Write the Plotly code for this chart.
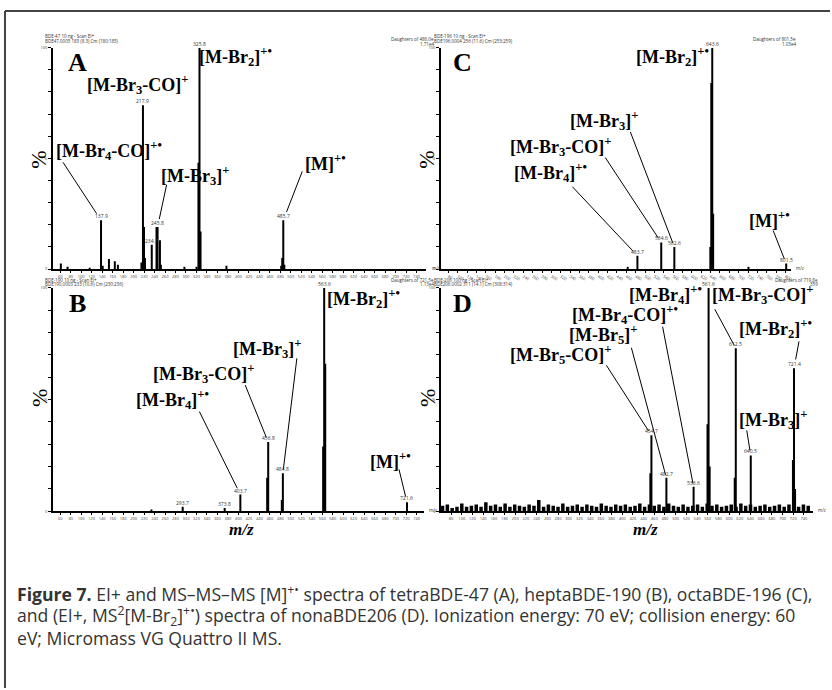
import math
import plotly.graph_objects as go

W, H = 832, 690

# ---------------- data (m/z, relative intensity %) ----------------
# A: tetraBDE-47
a_mz  = [61.2, 74.0, 116.3, 137.9, 141.1, 153.0, 164.2, 170.1, 215.0, 217.9, 219.9, 221.8,
         234.7, 243.8, 245.8, 250.3, 252.1, 297.0, 320.1, 323.8, 325.8, 327.8, 377.2,
         481.7, 483.7, 485.7, 487.7]
a_int = [2.5, 1.0, 0.6, 22, 1.5, 4.5, 3.5, 2.0, 3, 74, 19, 5,
         11, 19, 19, 13, 2, 1, 1, 48, 100, 17, 1.5,
         1.5, 5, 22, 2]
a_lab = [137.9, 217.9, 234.7, 245.8, 325.8, 485.7]

# B: heptaBDE-190
b_mz  = [234.0, 293.7, 373.8, 403.7, 454.8, 456.8, 482.8, 484.8, 561.6, 563.6, 565.6, 721.6]
b_int = [0.8, 2.0, 1.5, 7.5, 15, 31, 5, 17, 29, 100, 66, 4]
b_lab = [293.7, 373.8, 403.7, 456.8, 484.8, 563.6, 721.6]

# C: octaBDE-196
c_mz  = [463.0, 483.7, 534.6, 562.6, 639.5, 641.5, 643.6, 645.5, 721.0, 801.5]
c_int = [1.0, 6, 12, 10, 10, 84, 100, 25, 1.0, 2.5]
c_lab = [483.7, 534.6, 562.6, 643.6, 801.5]

# D: nonaBDE-206 (MS2 of [M-Br2]+.)
d_mz  = [452.7, 454.7, 482.7, 533.6, 559.6, 561.6, 563.6, 610.5, 612.5, 640.5, 719.4, 721.4, 723.4]
d_int = [17, 34, 15, 11, 39, 100, 20, 15, 73, 25, 23, 64, 10]
d_lab = [454.7, 482.7, 533.6, 561.6, 612.5, 640.5, 721.4]
d_noise_mz = [64, 73, 82, 91, 100, 109, 118, 127, 136, 145, 154, 163, 172, 181, 190, 199, 208,
              217, 226, 235, 244, 253, 262, 271, 280, 289, 298, 307, 316, 325, 334, 343, 352,
              361, 370, 379, 388, 397, 406, 415, 424, 433, 442, 451, 460, 469, 478, 487, 496,
              505, 514, 523, 532, 541, 550, 559, 568, 577, 586, 595, 604, 613, 622, 631, 640,
              649, 658, 667, 676, 685, 694, 703, 712, 721, 730, 739, 748]
d_noise_int = [2.5, 3, 1.5, 2, 3.5, 2, 2.5, 3, 2, 4, 2.5, 3, 2, 3.5, 2, 3, 2.5,
               2, 3, 2.5, 5, 2, 3, 2.5, 2, 3.5, 2, 2.5, 3, 2, 3, 2.5, 2,
               3.5, 2.5, 2, 3, 2.5, 3, 2, 2.5, 3.5, 2, 3, 2.5, 3, 2, 3.5, 2.5,
               2, 3, 2, 2.5, 3, 2, 3.5, 2.5, 3, 2, 2.5, 3, 2, 3.5, 2.5, 3,
               2, 2.5, 3, 2, 2.5, 3, 2, 3, 2.5, 2, 3, 2.5]

# ---------------- layout of panels (pixel boxes) ----------------
panels = {
    "A": dict(ax="", x=(53, 427), y=(45, 268), rng=(46, 758), mz=a_mz, it=a_int, lab=a_lab,
              noise=None),
    "C": dict(ax="2", x=(442, 793), y=(45, 268), rng=(64, 812), mz=c_mz, it=c_int, lab=c_lab,
              noise=None),
    "B": dict(ax="3", x=(53, 425), y=(287, 512), rng=(46, 754), mz=b_mz, it=b_int, lab=b_lab,
              noise=None),
    "D": dict(ax="4", x=(442, 815), y=(287, 512), rng=(61, 757), mz=d_mz, it=d_int, lab=d_lab,
              noise=(d_noise_mz, d_noise_int)),
}

fig = go.Figure()
serif = "Liberation Serif, Times New Roman, serif"

def sticks(mz, it):
    xs, ys = [], []
    for m, v in zip(mz, it):
        xs += [m, m, None]
        ys += [0, v, None]
    return xs, ys

for name, p in panels.items():
    xa, ya = "x" + p["ax"], "y" + p["ax"]
    if p["noise"]:
        xs, ys = sticks(*p["noise"])
        fig.add_trace(go.Scatter(x=xs, y=ys, mode="lines", xaxis=xa, yaxis=ya,
                                 line=dict(color="black", width=3.5), hoverinfo="skip"))
    xs, ys = sticks(p["mz"], p["it"])
    fig.add_trace(go.Scatter(x=xs, y=ys, mode="lines", xaxis=xa, yaxis=ya,
                             line=dict(color="black", width=2), hoverinfo="skip"))
    lay_x = "xaxis" + p["ax"]
    lay_y = "yaxis" + p["ax"]
    fig.layout[lay_x] = dict(domain=[p["x"][0] / W, p["x"][1] / W], range=list(p["rng"]),
                             anchor=ya, showgrid=False, zeroline=False, showline=True,
                             linecolor="black", linewidth=1.5, ticks="outside", ticklen=2,
                             tickwidth=1, tickcolor="black", dtick=20,
                             tickfont=dict(size=4, color="#444"))
    fig.layout[lay_y] = dict(domain=[1 - p["y"][1] / H, 1 - p["y"][0] / H], range=[0, 100],
                             anchor=xa, showgrid=False, zeroline=False, showline=True,
                             linecolor="black", linewidth=1.5, ticks="outside", ticklen=3,
                             tickwidth=1, tickcolor="black",
                             tickvals=[0, 50, 100], ticktext=["0", "%", "100"],
                             minor=dict(dtick=10, ticklen=3, tickcolor="black", ticks="outside"),
                             tickfont=dict(size=4, color="#444"))
    # tiny m/z value labels over peaks
    lookup = dict(zip(p["mz"], p["it"]))
    for m in p["lab"]:
        fig.add_annotation(x=m, y=lookup[m], xref=xa, yref=ya, text=f"{m:.1f}",
                           showarrow=False, yshift=4, font=dict(size=5, color="#333"))

# ---------------- annotation labels ----------------
labels = [
    ("[M-Br<sub>2</sub>", "+•", 236, 54), ("[M-Br<sub>3</sub>-CO", "+", 138, 82),
    ("[M-Br<sub>4</sub>-CO", "+•", 109, 149), ("[M-Br<sub>3</sub>", "+", 195, 174),
    ("[M", "+•", 326, 161),
    ("[M-Br<sub>2</sub>", "+•", 674, 54), ("[M-Br<sub>3</sub>", "+", 605, 118),
    ("[M-Br<sub>3</sub>-CO", "+", 562, 145), ("[M-Br<sub>4</sub>", "+•", 552, 171),
    ("[M", "+•", 771, 218),
    ("[M-Br<sub>2</sub>", "+•", 364, 298), ("[M-Br<sub>3</sub>", "+", 268, 348),
    ("[M-Br<sub>3</sub>-CO", "+", 204, 373), ("[M-Br<sub>4</sub>", "+•", 173, 399),
    ("[M", "+•", 391, 461),
    ("[M-Br<sub>4</sub>", "+•", 667, 294), ("[M-Br<sub>3</sub>-CO", "+", 764, 294),
    ("[M-Br<sub>4</sub>-CO", "+•", 627, 314), ("[M-Br<sub>5</sub>", "+", 604, 334),
    ("[M-Br<sub>5</sub>-CO", "+", 562, 354), ("[M-Br<sub>2</sub>", "+•", 777, 328),
    ("[M-Br<sub>3</sub>", "+", 775, 420),
]
for core, ch, cx, cy in labels:
    fig.add_annotation(x=cx / W, y=1 - cy / H, xref="paper", yref="paper",
                       text=f"<b>{core}]<sup>{ch}</sup></b>", showarrow=False,
                       xanchor="center", yanchor="middle",
                       font=dict(family=serif, size=18, color="black"))

# leader lines: (axis suffix, peak m/z, tail dx, tail dy (down +), standoff)
leaders = [
    ("", 137.9, -38, -58, 8), ("", 245.8, 9, -42, 8), ("", 485.7, 19, -49, 9),
    ("2", 562.6, -44, -115, 4), ("2", 534.6, -56, -85, 5), ("2", 483.7, -65, -69, 6),
    ("2", 801.5, -13, -33, 5),
    ("3", 484.8, 14, -115, 4), ("3", 456.8, -23, -57, 5), ("3", 403.7, -41, -83, 7),
    ("3", 721.6, -8, -33, 6),
    ("4", 612.5, -21, -39, 3), ("4", 533.6, -31, -160, 3), ("4", 482.7, -35, -130, 3),
    ("4", 454.7, -45, -70, 5), ("4", 721.4, 5, -27, 9), ("4", 640.5, -4, -25, 5),
]
all_lookup = {"": dict(zip(a_mz, a_int)), "2": dict(zip(c_mz, c_int)),
              "3": dict(zip(b_mz, b_int)), "4": dict(zip(d_mz, d_int))}
for sfx, m, dx, dy, so in leaders:
    L = math.hypot(dx, dy)
    fig.add_shape(type="line", xref="x" + sfx, yref="y" + sfx,
                  xsizemode="pixel", ysizemode="pixel",
                  xanchor=m, yanchor=all_lookup[sfx][m],
                  x0=dx * so / L, y0=-dy * so / L, x1=dx, y1=-dy,
                  line=dict(color="black", width=1))

# panel letters, % titles, m/z titles
for letter, cx, cy in [("A", 78, 60), ("C", 464, 60), ("B", 78, 303), ("D", 464, 303)]:
    fig.add_annotation(x=cx / W, y=1 - cy / H, xref="paper", yref="paper",
                       text=f"<b>{letter}</b>", showarrow=False,
                       xanchor="center", yanchor="middle",
                       font=dict(family=serif, size=26, color="black"))
for cx, cy in [(39, 158), (428, 158), (39, 398), (428, 398)]:
    fig.add_annotation(x=cx / W, y=1 - cy / H, xref="paper", yref="paper", text="%",
                       textangle=-90, showarrow=False, xanchor="center", yanchor="middle",
                       font=dict(family=serif, size=22, color="black"))
for cx, cy in [(242, 530), (647, 530)]:
    fig.add_annotation(x=cx / W, y=1 - cy / H, xref="paper", yref="paper",
                       text="<b><i>m/z</i></b>", showarrow=False,
                       xanchor="center", yanchor="middle",
                       font=dict(family=serif, size=17, color="black"))

# tiny instrument header texts
tiny = [
    ("BDE-47 10 ng - Scan EI+", 43, 33, "left"), ("BDE47.0005 183 (8.3) Cm (180:185)", 43, 38, "left"),
    ("Daughters of 486.0e", 437, 36, "right"), ("1.71e4", 437, 41, "right"),
    ("BDE-196 10 ng - Scan EI+", 433, 33, "left"), ("BDE196.0004 256 (11.6) Cm (253:259)", 433, 38, "left"),
    ("Daughters of 801.5e", 800, 36, "right"), ("1.03e4", 800, 41, "right"),
    ("BDE-190 10 ng - Scan EI+", 43, 279, "left"), ("BDE190.0003 233 (10.6) Cm (230:236)", 43, 283, "left"),
    ("Daughters of 721.5e", 437, 279, "right"), ("1.13e4", 437, 283, "right"),
    ("BDE-206 100 ng - Scan EI+", 433, 279, "left"), ("BDE206.0002 311 (14.1) Cm (308:314)", 433, 283, "left"),
    ("Daughters of 719.8e", 822, 279, "right"), ("359", 822, 283, "right"),
    ("m/z", 431, 267, "left"), ("m/z", 796, 267, "left"),
    ("m/z", 428, 511, "left"), ("m/z", 818, 511, "left"),
]
for t, cx, cy, al in tiny:
    fig.add_annotation(x=cx / W, y=1 - cy / H, xref="paper", yref="paper", text=t,
                       showarrow=False, xanchor=al, yanchor="middle",
                       font=dict(size=4.5, color="#333"))

# caption
cap_font = "Open Sans, sans-serif"
caption = [
    ("<b>Figure 7.</b> EI+ and MS–MS–MS [M]<sup>+•</sup> spectra of tetraBDE-47 (A), "
     "heptaBDE-190 (B), octaBDE-196 (C),", 595),
    ("and (EI+, MS<sup>2</sup>[M-Br<sub>2</sub>]<sup>+•</sup>) spectra of nonaBDE206 (D). "
     "Ionization energy: 70 eV; collision energy: 60", 617),
    ("eV; Micromass VG Quattro II MS.", 640),
]
for t, cy in caption:
    fig.add_annotation(x=15 / W, y=1 - cy / H, xref="paper", yref="paper", text=t,
                       showarrow=False, xanchor="left", yanchor="middle", align="left",
                       font=dict(family=cap_font, size=17.6, color="#333"))

# outer frame
fig.add_shape(type="line", xref="paper", yref="paper", x0=5 / W, x1=1, y0=1 - 8 / H, y1=1 - 8 / H,
              line=dict(color="#444", width=2))
fig.add_shape(type="line", xref="paper", yref="paper", x0=5 / W, x1=5 / W, y0=1 - 8 / H, y1=0,
              line=dict(color="#444", width=2))

fig.update_layout(width=W, height=H, margin=dict(l=0, r=0, t=0, b=0),
                  paper_bgcolor="white", plot_bgcolor="white", showlegend=False)

fig.write_html("out.html", config={"displayModeBar": False},
               post_script="document.body.style.margin='0px';")
